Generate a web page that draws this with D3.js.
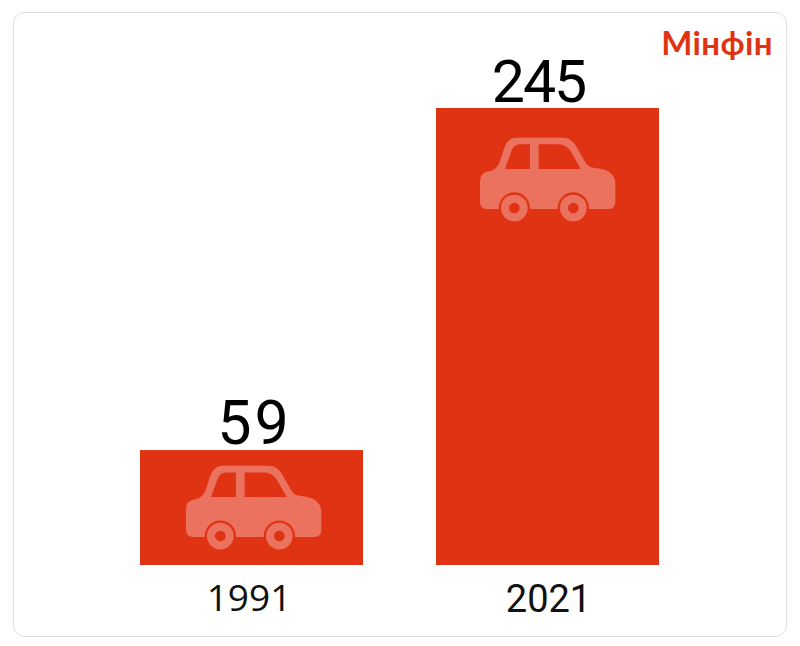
<!DOCTYPE html>
<html lang="uk">
<head>
    <meta charset="UTF-8">
    <title>Мінфін</title>
    <style>
        html, body { margin: 0; padding: 0; background: #fff; }
        svg { display: block; }
    </style>
</head>
<body>
<script src="https://cdnjs.cloudflare.com/ajax/libs/d3/7.8.5/d3.min.js"></script>
<script>
    const years = ["1991", "2021"];
    const values = [59, 245];
    const brand = "Мінфін";

    const width = 800;
    const height = 646;
    const red = "#e03314";
    const carFill = "#ec7260";

    const svg = d3.select("body").append("svg")
        .attr("width", width)
        .attr("height", height);

    // card
    svg.append("rect")
        .attr("x", 13.5).attr("y", 12.5)
        .attr("width", 773).attr("height", 624)
        .attr("rx", 11)
        .attr("fill", "#fff")
        .attr("stroke", "#dfdfdf");

    const x = d3.scaleBand()
        .domain(years)
        .range([140, 659])
        .paddingInner(0.2466);

    // the bars do not start at zero in the original, they stand a little below it
    const y = d3.scaleLinear()
        .domain([-3.5, 245])
        .range([565, 108]);

    const bars = svg.selectAll("g.bar")
        .data(years)
        .enter()
        .append("g")
        .attr("class", "bar");

    bars.append("rect")
        .attr("x", d => x(d))
        .attr("y", (d, i) => y(values[i]))
        .attr("width", x.bandwidth())
        .attr("height", (d, i) => y.range()[0] - y(values[i]))
        .attr("fill", red);

    // value labels, the two sit differently in the original
    const labelShift = [1.5, -8];
    const labelSpacing = [3, -2];
    bars.append("text")
        .attr("x", (d, i) => x(d) + x.bandwidth() / 2 + labelShift[i] + labelSpacing[i] / 2)
        .attr("y", (d, i) => y(values[i]) - 6)
        .attr("text-anchor", "middle")
        .attr("font-family", "Roboto")
        .attr("font-size", (d, i) => [61, 59][i])
        .attr("letter-spacing", (d, i) => labelSpacing[i])
        .attr("fill", "#000")
        .text((d, i) => values[i]);

    // car icon, drawn at 3x and scaled down
    const carBody = "M138 38 L278 38 Q302 38 316 60 L346 112 Q354 126 370 128 L394 132 Q436 140 436 178 L436 230 Q436 252 414 252 L52 252 Q30 252 30 230 L30 170 Q30 142 56 139 Q78 136 88 114 L101 74 Q113 38 138 38 Z "
        + "M105 132 L180 132 L180 58 L150 58 Q132 58 125 76 Z "
        + "M206 132 L332 132 L304 82 Q290 58 265 58 L206 58 Z";

    const carShift = [2, 0];
    const carTop = [15, 29];
    const cars = bars.append("g")
        .attr("transform", (d, i) => {
            const cx = x(d) + x.bandwidth() / 2 + carShift[i];
            return `translate(${cx - 77.5}, ${y(values[i]) + carTop[i] - 12}) scale(${1 / 3})`;
        });

    cars.append("path")
        .attr("d", carBody)
        .attr("fill-rule", "evenodd")
        .attr("fill", carFill);

    [133, 310].forEach(cx => {
        cars.append("circle").attr("cx", cx).attr("cy", 249).attr("r", 47).attr("fill", red);
        cars.append("circle").attr("cx", cx).attr("cy", 249).attr("r", 40).attr("fill", carFill);
        cars.append("circle").attr("cx", cx).attr("cy", 249).attr("r", 16).attr("fill", red);
    });

    // year axis
    const axis = svg.append("g")
        .attr("transform", "translate(0, 565)")
        .call(d3.axisBottom(x).tickSize(0).tickPadding(20));
    axis.select(".domain").remove();
    axis.selectAll("text")
        .attr("dx", (d, i) => [-2.5, 1][i])
        .attr("font-family", (d, i) => ["Open Sans", "Roboto"][i])
        .attr("font-size", (d, i) => [37, 38][i])
        .attr("fill", "#111");

    // logo
    svg.append("text")
        .attr("x", 773)
        .attr("y", 55)
        .attr("text-anchor", "end")
        .attr("font-family", "Lato")
        .attr("font-weight", 700)
        .attr("font-size", 33)
        .attr("letter-spacing", 0.4)
        .attr("fill", red)
        .text(brand);
</script>
</body>
</html>
